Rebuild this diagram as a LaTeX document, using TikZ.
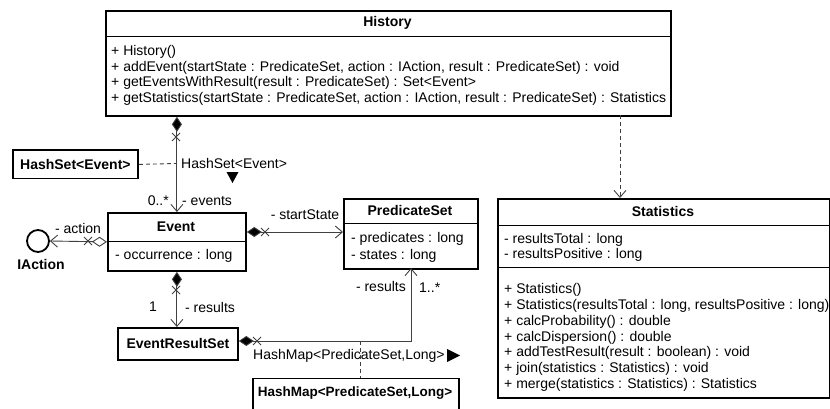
\documentclass[tikz,border=0pt]{standalone}
\usepackage{fontspec}
\setmainfont{Liberation Sans}
\usetikzlibrary{arrows.meta,calc}
\begin{document}
\begin{tikzpicture}[x=1pt,y=-1pt,
  box/.style={draw,line width=1.8pt,fill=white,inner sep=0pt,anchor=north west},
  sepline/.style={line width=0.7pt},
  txt/.style={font=\fontsize{14}{15}\selectfont,inner sep=0pt,anchor=west},
  lbl/.style={font=\fontsize{14}{15}\selectfont,inner sep=0pt},
  ttl/.style={font=\bfseries\fontsize{14}{15}\selectfont,inner sep=0pt},
  conn/.style={line width=0.9pt,draw=black!75},
  vhead/.tip={Straight Barb[length=7pt,width=12pt,line width=0.9pt]},
  fdia/.tip={Diamond[length=15pt,width=10pt,fill=black]},
  odia/.tip={Diamond[open,length=15pt,width=10pt,fill=white]},
  xcross/.pic={\draw[line width=0.9pt,draw=black!75] (-4,-4) -- (4,4) (-4,4) -- (4,-4);},
  dsh/.style={conn,dash pattern=on 4pt off 3pt}
]
\useasboundingbox (0,0) rectangle (830,409);

% ---------- History ----------
\node[box,minimum width=565pt,minimum height=105pt] (history) at (105,10) {};
\draw[sepline] (105,36) -- (670,36);
\node[ttl] (historyT) at (387.5,23) {History};
\node[txt] (h1) at (111,52) {+ History()};
\node[txt] (h2) at (111,67.5) {+ addEvent(startState : PredicateSet, action : IAction, result : PredicateSet) : void};
\node[txt] (h3) at (111,83) {+ getEventsWithResult(result : PredicateSet) : Set<Event>};
\node[txt] (h4) at (111,98.5) {+ getStatistics(startState : PredicateSet, action : IAction, result : PredicateSet) : Statistics};

% ---------- HashSet<Event> ----------
\node[box,minimum width=125pt,minimum height=28pt] (hashset) at (12,149.5) {};
\node[ttl] (hashsetT) at (hashset.center) {HashSet<Event>};

% ---------- Event ----------
\node[box,minimum width=138pt,minimum height=58pt] (event) at (107,212) {};
\draw[sepline] (107,241) -- (245,241);
\node[ttl] (eventT) at (176,226.5) {Event};
\node[txt] (e1) at (115,256) {- occurrence : long};

% ---------- IAction ----------
\node[draw,circle,line width=1.8pt,minimum size=22pt,inner sep=0pt] (iaction) at (38,241) {};
\node[ttl] (iactionT) at (41,264) {IAction};

% ---------- PredicateSet ----------
\node[box,minimum width=134pt,minimum height=70pt] (pset) at (343,198) {};
\draw[sepline] (343,223) -- (477,223);
\node[ttl] (psetT) at (410,210.5) {PredicateSet};
\node[txt] (p1) at (351,239) {- predicates : long};
\node[txt] (p2) at (351,255.5) {- states : long};

% ---------- EventResultSet ----------
\node[box,minimum width=120pt,minimum height=32pt] (ers) at (117,327) {};
\node[ttl] (ersT) at (ers.center) {EventResultSet};

% ---------- HashMap ----------
\node[box,minimum width=206pt,minimum height=40pt] (hashmap) at (252,377.5) {};
\node[ttl,font=\bfseries\fontsize{13.5}{15}\selectfont] (hashmapT) at (355,393) {HashMap<PredicateSet,Long>};

% ---------- Statistics ----------
\node[box,minimum width=332pt,minimum height=199pt] (stats) at (497,198) {};
\draw[sepline] (497,225) -- (829,225);
\draw[sepline] (497,267) -- (829,267);
\node[ttl] (statsT) at (663,211.5) {Statistics};
\node[txt] (s1) at (504,240) {- resultsTotal : long};
\node[txt] (s2) at (504,255) {- resultsPositive : long};
\node[txt] (s3) at (504,290) {+ Statistics()};
\node[txt] (s4) at (504,305.8) {+ Statistics(resultsTotal : long, resultsPositive : long)};
\node[txt] (s5) at (504,321.6) {+ calcProbability() : double};
\node[txt] (s6) at (504,337.4) {+ calcDispersion() : double};
\node[txt] (s7) at (504,353.2) {+ addTestResult(result : boolean) : void};
\node[txt] (s8) at (504,369) {+ join(statistics : Statistics) : void};
\node[txt] (s9) at (504,384.8) {+ merge(statistics : Statistics) : Statistics};

% ---------- connectors ----------
% History -> Event
\draw[conn,fdia-vhead] (event.north |- history.south) -- (event.north);
\pic at (176,137) {xcross};
\node[lbl,anchor=east] (l0n) at (169,201) {0..*};
\node[lbl,anchor=west] (levents) at (182,201) {- events};
% HashSet note
\coordinate (hsj) at (176,163.5);
\draw[dsh] (hashset.east) -- (hsj);
\node[lbl,anchor=west] (hslabel) at (181,163.5) {HashSet<Event>};
\fill (226.5,172) -- (238.5,172) -- (232.5,183) -- cycle;

% Event -> IAction
\draw[conn,odia-vhead] (event.west) -- (iaction.east);
\pic at (88,241) {xcross};
\node[lbl] (laction) at (78,228) {- action};

% Event -> PredicateSet
\draw[conn,fdia-vhead] (event.east |- 0,232) -- (pset.west |- 0,232);
\pic at (265,232) {xcross};
\node[lbl] (lstart) at (305,215) {- startState};

% Event -> EventResultSet
\draw[conn,fdia-vhead] (event.south) -- (ers.north -| event.south);
\pic at (176,290) {xcross};
\node[lbl] (lone) at (153,307) {1};
\node[lbl,anchor=west] (lres1) at (185,307) {- results};

% EventResultSet -> PredicateSet
\draw[conn,fdia-vhead] (ers.east |- 0,341) -- (411,341) -- (411,268);
\pic at (257,341) {xcross};
\node[lbl,anchor=east] (lres2) at (406,286) {- results};
\node[lbl,anchor=west] (lmany) at (419,288) {1..*};
% HashMap note
\coordinate (hmj) at (360,341);
\draw[dsh] (hmj) -- (hmj |- hashmap.north);
\node[lbl,anchor=west] (hmlabel) at (253,356) {HashMap<PredicateSet,Long>};
\fill (447,349) -- (447,362) -- (460,355.5) -- cycle;

% History -> Statistics (dependency)
\draw[dsh,-vhead] (620,115) -- (620,198);
\end{tikzpicture}
\end{document}
